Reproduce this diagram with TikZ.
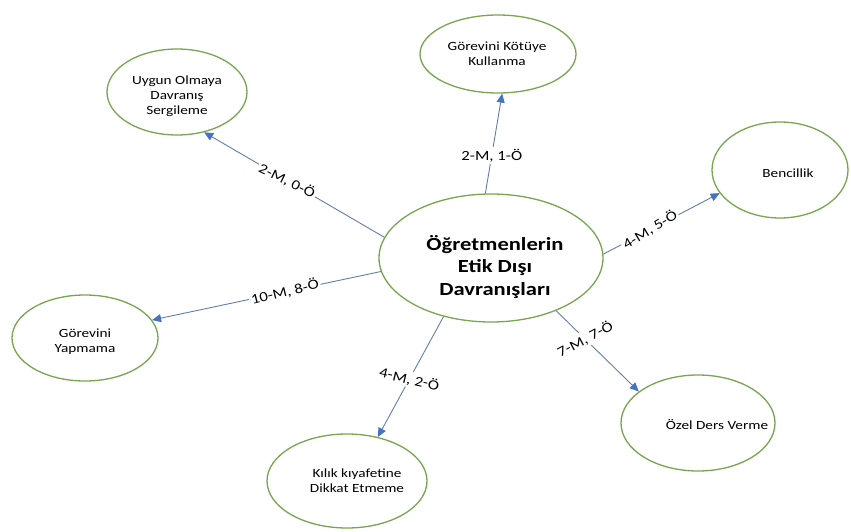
\documentclass[tikz,border=0pt]{standalone}
\usepackage{fontspec}
\setmainfont{Carlito}
\usetikzlibrary{arrows.meta,shapes.geometric}
\definecolor{ringgreen}{RGB}{120,165,80}
\definecolor{linkblue}{RGB}{100,125,170}
\definecolor{tipblue}{RGB}{68,114,196}
\begin{document}
\begin{tikzpicture}[x=1pt,y=-1pt,
  ring/.style={ellipse, draw=ringgreen, line width=1.3pt, inner sep=0pt},
  sat/.style={font=\fontsize{12.5}{15}\selectfont, align=center, inner sep=0pt, xscale=1.22},
  link/.style={draw=linkblue, line width=0.9pt, -{Triangle[length=9pt,width=8pt,color=tipblue]}},
  lab/.style={fill=white, inner sep=1.5pt, font=\fontsize{14}{16}\selectfont}]
\useasboundingbox[fill=white] (0,0) rectangle (851,532);
% ellipses
\node[ring, minimum width=224pt, minimum height=128pt] (c) at (491,258) {};
\node[ring, minimum width=140pt, minimum height=86pt] (s1) at (177,92) {};
\node[ring, minimum width=156pt, minimum height=78pt] (s2) at (498,54) {};
\node[ring, minimum width=136pt, minimum height=96pt] (s3) at (780,170) {};
\node[ring, minimum width=146pt, minimum height=86pt] (s4) at (85,338) {};
\node[ring, minimum width=160pt, minimum height=94pt] (s5) at (347,481) {};
\node[ring, minimum width=154pt, minimum height=96pt] (s6) at (698,423) {};
% texts
\node[font=\bfseries\fontsize{18.5}{22.5}\selectfont, align=center, inner sep=0pt, xscale=1.22] (ct) at (495,267) {Öğretmenlerin\\Etik Dışı\\Davranışları};
\node[sat] (t1) at (177,96) {Uygun Olmaya\\Davranış\\Sergileme};
\node[sat] (t2) at (497,54) {Görevini Kötüye\\Kullanma};
\node[sat] (t3) at (788,173) {Bencillik};
\node[sat] (t4) at (85,342) {Görevini\\Yapmama};
\node[sat] (t5) at (357,481) {Kılık kıyafetine\\Dikkat Etmeme};
\node[sat] (t6) at (717,425) {Özel Ders Verme};
% connectors
\draw[link] (c.169) -- node[lab, pos=0.54, rotate=-26, xscale=1.2] {2-M, 0-Ö} (s1.-56);
\draw[link] (c.95) -- node[lab, pos=0.38, xscale=1.2] {2-M, 1-Ö} (s2.-84);
\draw[link] (c.2) -- node[lab, pos=0.4, rotate=31, xscale=1.2] {4-M, 5-Ö} (s3.-159);
\draw[link] (c.187) -- node[lab, pos=0.42, rotate=14, xscale=1.2] {10-M, 8-Ö} (s4.15);
\draw[link] (c.-129.5) -- node[lab, pos=0.52, rotate=-13, xscale=1.2] {4-M, 2-Ö} (s5.55);
\draw[link] (c.-39.4) -- node[lab, pos=0.35, rotate=28, xscale=1.2] {7-M, 7-Ö} (s6.152);
\end{tikzpicture}
\end{document}
